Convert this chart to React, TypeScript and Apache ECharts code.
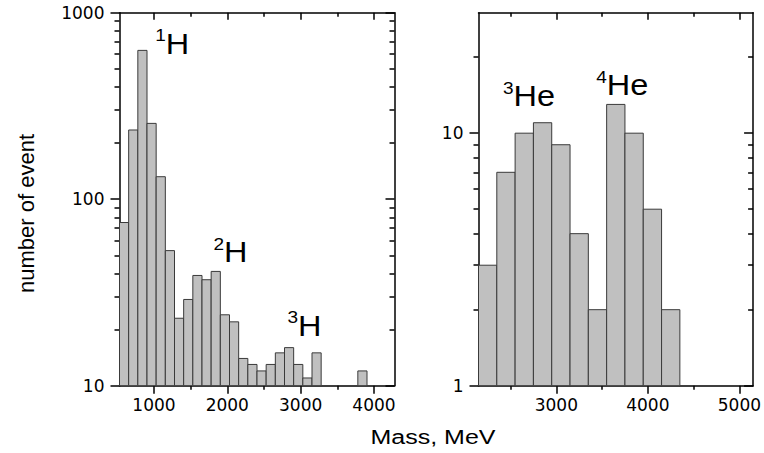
import React, { useEffect, useRef } from 'react';
import * as echarts from 'echarts';

// Left panel: hydrogen isotopes
const hBinStart = 530;
const hBinWidth = 125;
const hCounts = [75, 235, 628, 255, 132, 53, 23, 29, 39, 37, 41, 24, 22, 14, 13, 12, 13, 15, 16, 13, 11, 15, 0, 0, 0, 0, 12, 0, 0, 0];
const hXRange = [530, 4280];
const hYRange = [10, 1000];
const hXMajor = [1000, 2000, 3000, 4000];
const hXMinor = [1500, 2500, 3500];
const hYMajor = [10, 100, 1000];
const hYMinor = [20, 30, 40, 50, 60, 70, 80, 90, 200, 300, 400, 500, 600, 700, 800, 900];

// Right panel: helium isotopes
const heBinStart = 2150;
const heBinWidth = 200;
const heCounts = [3, 7, 10, 11, 9, 4, 2, 13, 10, 5, 2, 0, 0, 0, 0];
const heXRange = [2150, 5150];
const heYRange = [1, 30];
const heXMajor = [3000, 4000, 5000];
const heXMinor = [2500, 3500, 4500];
const heYMajor = [1, 10];
const heYMinor = [2, 3, 4, 5, 6, 7, 8, 9, 20];

// Peak annotations (position of top-left of label, data units)
const hNoteSup = ['1', '2', '3'];
const hNoteBase = ['H', 'H', 'H'];
const hNoteX = [1017, 1811, 2820];
const hNoteY = [838, 64, 25.9];
const heNoteSup = ['3', '4'];
const heNoteBase = ['He', 'He'];
const heNoteX = [2418, 3436];
const heNoteY = [16.3, 18.05];

const FONT = '"Liberation Sans", Arial, sans-serif';
const TICK_FONT = '"DejaVu Sans", sans-serif';

function binsToData(start: number, width: number, counts: number[]) {
  return counts.map((c, i) => [start + i * width, start + (i + 1) * width, c]);
}

function histSeries(gi: number, data: number[][], base: number) {
  return {
    type: 'custom',
    xAxisIndex: gi * 4,
    yAxisIndex: gi * 4,
    encode: { x: [0, 1], y: 2 },
    z: 1,
    data,
    renderItem: (params: any, api: any) => {
      const v = api.value(2);
      if (!(v > 0)) return null;
      const p0 = api.coord([api.value(0), v]);
      const p1 = api.coord([api.value(1), base]);
      return {
        type: 'rect',
        shape: { x: p0[0], y: p0[1], width: p1[0] - p0[0], height: p1[1] - p0[1] },
        style: { fill: '#c0c0c0', stroke: '#3a3a3a', lineWidth: 1 },
      };
    },
  };
}

function noteSeries(gi: number, xs: number[], ys: number[], sups: string[], bases: string[]) {
  return {
    type: 'custom',
    xAxisIndex: gi * 4,
    yAxisIndex: gi * 4,
    z: 5,
    silent: true,
    data: xs.map((x, i) => [x, ys[i]]),
    renderItem: (params: any, api: any) => {
      const i = params.dataIndex;
      const p = api.coord([api.value(0), api.value(1)]);
      return {
        type: 'text',
        x: p[0],
        y: p[1],
        scaleX: 1.12,
        style: {
          text: '{s|' + sups[i] + '}{b|' + bases[i] + '}',
          align: 'left',
          verticalAlign: 'top',
          fill: '#000',
          rich: {
            s: { fontSize: 17, fontFamily: FONT, lineHeight: 12, verticalAlign: 'top', fill: '#000' },
            b: { fontSize: 29, fontFamily: FONT, lineHeight: 34, fill: '#000' },
          },
        },
      };
    },
  };
}

const lineStyle = { color: '#000', width: 1.5 };
const plainNum = (v: number) => String(v);

function xAxes(gi: number, range: number[], major: number[], minor: number[]) {
  const common = { gridIndex: gi, type: 'value', min: range[0], max: range[1], splitLine: { show: false } };
  return [
    {
      ...common,
      position: 'bottom',
      axisLine: { show: true, lineStyle },
      axisTick: { show: true, inside: false, length: 8, customValues: major, lineStyle },
      axisLabel: { show: true, customValues: major, formatter: plainNum, fontSize: 17, fontFamily: TICK_FONT, color: '#000', margin: 11 },
    },
    {
      ...common,
      position: 'bottom',
      axisLine: { show: false },
      axisTick: { show: true, inside: false, length: 4, customValues: minor, lineStyle },
      axisLabel: { show: false },
    },
    {
      ...common,
      position: 'top',
      axisLine: { show: true, lineStyle },
      axisTick: { show: true, inside: true, length: 7, customValues: major, lineStyle },
      axisLabel: { show: false },
    },
    {
      ...common,
      position: 'top',
      axisLine: { show: false },
      axisTick: { show: true, inside: true, length: 4, customValues: minor, lineStyle },
      axisLabel: { show: false },
    },
  ];
}

function yAxes(gi: number, range: number[], major: number[], minor: number[]) {
  const common = { gridIndex: gi, type: 'log', logBase: 10, min: range[0], max: range[1], splitLine: { show: false } };
  return [
    {
      ...common,
      position: 'left',
      axisLine: { show: true, lineStyle },
      axisTick: { show: true, inside: false, length: 9, customValues: major, lineStyle },
      axisLabel: { show: true, customValues: major, formatter: plainNum, fontSize: 17, fontFamily: TICK_FONT, color: '#000', margin: 15 },
    },
    {
      ...common,
      position: 'left',
      axisLine: { show: false },
      axisTick: { show: true, inside: false, length: 5, customValues: minor, lineStyle },
      axisLabel: { show: false },
    },
    {
      ...common,
      position: 'right',
      axisLine: { show: true, lineStyle },
      axisTick: { show: true, inside: true, length: 9, customValues: major, lineStyle },
      axisLabel: { show: false },
    },
    {
      ...common,
      position: 'right',
      axisLine: { show: false },
      axisTick: { show: true, inside: true, length: 5, customValues: minor, lineStyle },
      axisLabel: { show: false },
    },
  ];
}

export default function App() {
  const ref = useRef<HTMLDivElement>(null);
  useEffect(() => {
    if (!ref.current) return;
    const chart = echarts.init(ref.current, undefined, { renderer: 'svg' });
    const option: any = {
      animation: false,
      backgroundColor: '#fff',
      grid: [
        { left: 119.5, top: 12.7, width: 275, height: 373, containLabel: false },
        { left: 478.5, top: 12.7, width: 275, height: 373, containLabel: false },
      ],
      xAxis: [...xAxes(0, hXRange, hXMajor, hXMinor), ...xAxes(1, heXRange, heXMajor, heXMinor)],
      yAxis: [...yAxes(0, hYRange, hYMajor, hYMinor), ...yAxes(1, heYRange, heYMajor, heYMinor)],
      series: [
        histSeries(0, binsToData(hBinStart, hBinWidth, hCounts), hYRange[0]),
        histSeries(1, binsToData(heBinStart, heBinWidth, heCounts), heYRange[0]),
        noteSeries(0, hNoteX, hNoteY, hNoteSup, hNoteBase),
        noteSeries(1, heNoteX, heNoteY, heNoteSup, heNoteBase),
      ],
      graphic: [
        {
          type: 'text',
          x: 433,
          y: 437.4,
          scaleX: 1.25,
          style: { text: 'Mass, MeV', fontSize: 20, fontFamily: FONT, fill: '#000', align: 'center', verticalAlign: 'middle' },
        },
        {
          type: 'text',
          x: 26.5,
          y: 213.5,
          rotation: Math.PI / 2,
          style: { text: 'number of event', fontSize: 22, fontFamily: FONT, fill: '#000', align: 'center', verticalAlign: 'middle' },
        },
      ],
    };
    chart.setOption(option);
    return () => chart.dispose();
  }, []);
  return (
    <div
      ref={ref}
      style={{ position: 'fixed', left: 0, top: 0, width: 764, height: 453, background: '#fff' }}
    />
  );
}
